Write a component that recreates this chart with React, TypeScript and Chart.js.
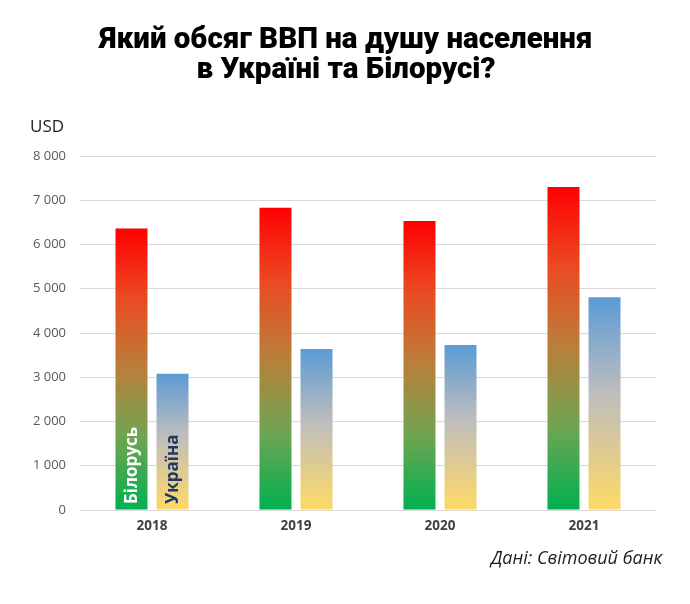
import React, { useEffect, useRef } from "react";
import { Chart, registerables } from "chart.js";

Chart.register(...registerables);

const years = ["2018", "2019", "2020", "2021"];
const belarus = [6360, 6830, 6530, 7300];
const ukraine = [3080, 3640, 3730, 4810];
const seriesNames = ["Білорусь", "Україна"];
const titleLines = ["Який обсяг ВВП на душу населення", "в Україні та Білорусі?"];
const unitLabel = "USD";
const sourceText = "Дані: Світовий банк";

const belarusStops: [number, string][] = [
  [0, "#FF0000"],
  [0.25, "#EA4B24"],
  [0.5, "#B8803A"],
  [0.75, "#6CA552"],
  [1, "#00B050"],
];
const ukraineStops: [number, string][] = [
  [0, "#5B9BD5"],
  [0.45, "#BDBDBD"],
  [1, "#FFD966"],
];

function gradientFor(stops: [number, string][], fallback: string) {
  return (ctx: any) => {
    const chart = ctx.chart;
    const area = chart.chartArea;
    const y = chart.scales?.y;
    if (!area || !y || typeof ctx.raw !== "number") return fallback;
    const top = y.getPixelForValue(ctx.raw);
    const bottom = y.getPixelForValue(0);
    const g = chart.ctx.createLinearGradient(0, top, 0, bottom);
    stops.forEach(([o, c]) => g.addColorStop(o, c));
    return g;
  };
}

const decorPlugin = {
  id: "decor",
  afterDraw(chart: any) {
    const c = chart.ctx;
    const area = chart.chartArea;
    c.save();
    // title
    c.fillStyle = "#000";
    c.textAlign = "center";
    c.textBaseline = "middle";
    c.font = "900 29.5px Roboto";
    c.fillText(titleLines[0], 346, 41);
    c.fillText(titleLines[1], 346, 71);
    // unit
    c.textAlign = "left";
    c.font = "17px 'Open Sans'";
    c.fillStyle = "#222";
    c.fillText(unitLabel, 30, 127);
    // source
    c.textAlign = "right";
    c.font = "italic 18px 'Open Sans'";
    c.fillStyle = "#222";
    c.fillText(sourceText, 662, 559);
    // in-bar series labels (first category)
    const colors = ["#FFFFFF", "#1F3864"];
    [0, 1].forEach((di) => {
      const meta = chart.getDatasetMeta(di);
      const el = meta.data[0];
      if (!el) return;
      c.save();
      c.translate(el.x, area.bottom - 6);
      c.rotate(-Math.PI / 2);
      c.textAlign = "left";
      c.textBaseline = "middle";
      c.font = "bold 17px 'Open Sans'";
      c.fillStyle = colors[di];
      c.fillText(seriesNames[di], 0, 1);
      c.restore();
    });
    c.restore();
  },
};

export default function App() {
  const ref = useRef<HTMLCanvasElement | null>(null);
  useEffect(() => {
    document.body.style.margin = "0";
    const chart = new Chart(ref.current as HTMLCanvasElement, {
      type: "bar",
      data: {
        labels: years,
        datasets: [
          {
            label: seriesNames[0],
            data: belarus,
            backgroundColor: gradientFor(belarusStops, "#C0603A"),
            categoryPercentage: 0.57,
            barPercentage: 0.78,
          },
          {
            label: seriesNames[1],
            data: ukraine,
            backgroundColor: gradientFor(ukraineStops, "#BDBDBD"),
            categoryPercentage: 0.57,
            barPercentage: 0.78,
          },
        ],
      },
      options: {
        animation: false,
        responsive: false,
        layout: { padding: { top: 156, left: 0, right: 34, bottom: 64 } },
        plugins: {
          legend: { display: false },
          tooltip: { enabled: false },
          title: { display: false },
        },
        scales: {
          x: {
            grid: { display: false },
            border: { display: false },
            ticks: {
              color: "#404040",
              font: { family: "Open Sans", size: 13.5, weight: "bold" },
              padding: 0,
            },
            afterFit(scale: any) {
              scale.height = 30;
            },
          },
          y: {
            min: 0,
            max: 8000,
            ticks: {
              stepSize: 1000,
              color: "#595959",
              font: { family: "Open Sans", size: 13 },
              padding: 14,
              callback: (v: any) =>
                Number(v)
                  .toString()
                  .replace(/\B(?=(\d{3})+(?!\d))/g, " "),
            },
            grid: { color: "#D9D9D9", lineWidth: 1, drawTicks: false },
            border: { display: false },
            afterFit(scale: any) {
              scale.width = 80;
            },
          },
        },
      },
      plugins: [decorPlugin],
    } as any);
    return () => chart.destroy();
  }, []);
  return (
    <div style={{ width: 690, height: 604, background: "#fff" }}>
      <canvas ref={ref} width={690} height={604} />
    </div>
  );
}
